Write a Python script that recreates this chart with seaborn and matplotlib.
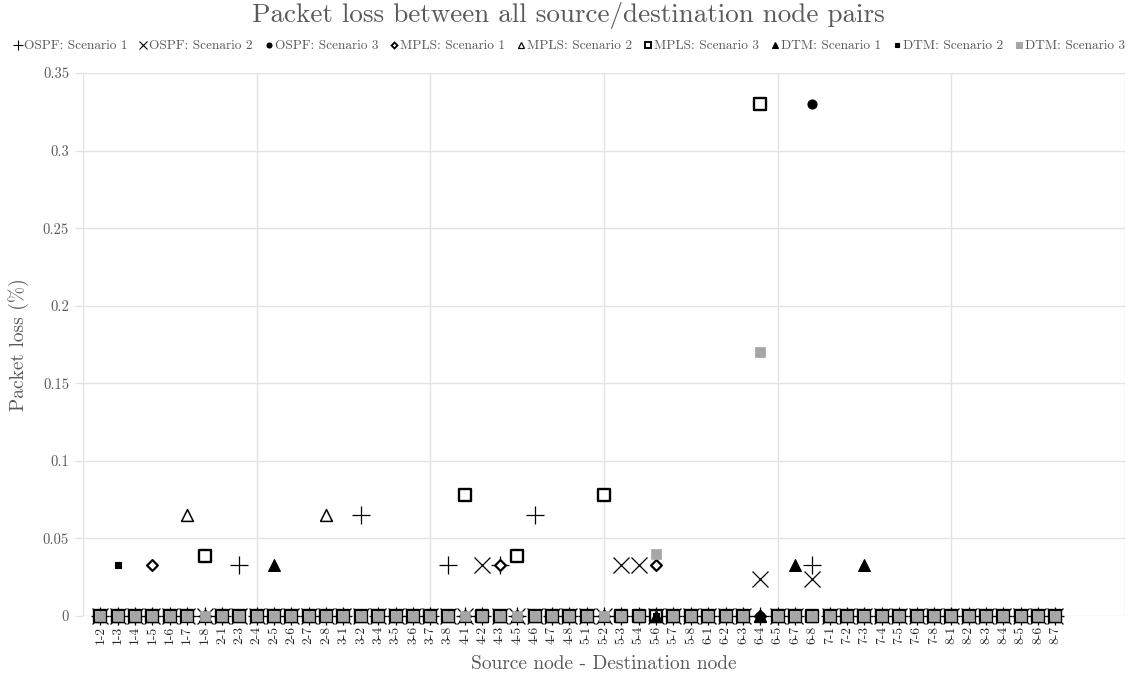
import numpy as np
import pandas as pd
import matplotlib
matplotlib.use("Agg")
import matplotlib.pyplot as plt
from matplotlib.lines import Line2D
import seaborn as sns

sns.set_theme(style="white")
plt.rcParams["font.family"] = ["cmr10", "DejaVu Serif"]
plt.rcParams["axes.formatter.use_mathtext"] = True

# Source-destination node pairs (8 nodes, every ordered pair)
pairs = [f"{s}-{d}" for s in range(1, 9) for d in range(1, 9) if s != d]

# Non-zero packet-loss values (%) per series; every other pair is 0
ospf_s1 = {"2-3": 0.033, "3-2": 0.065, "3-8": 0.033, "4-3": 0.033, "4-6": 0.065, "6-8": 0.033}
ospf_s2 = {"4-2": 0.033, "5-3": 0.033, "5-4": 0.033, "6-4": 0.024, "6-8": 0.024}
ospf_s3 = {"6-8": 0.33}
mpls_s1 = {"1-5": 0.033, "4-3": 0.033, "5-6": 0.033}
mpls_s2 = {"1-7": 0.065, "2-8": 0.065}
mpls_s3 = {"1-8": 0.039, "4-1": 0.078, "4-5": 0.039, "5-2": 0.078, "6-4": 0.33}
dtm_s1 = {"2-5": 0.033, "6-7": 0.033, "7-3": 0.033}
dtm_s2 = {"1-3": 0.033}
dtm_s3 = {"5-6": 0.04, "6-4": 0.17}

series_names = ["OSPF: Scenario 1", "OSPF: Scenario 2", "OSPF: Scenario 3",
                "MPLS: Scenario 1", "MPLS: Scenario 2", "MPLS: Scenario 3",
                "DTM: Scenario 1", "DTM: Scenario 2", "DTM: Scenario 3"]
series_values = [ospf_s1, ospf_s2, ospf_s3, mpls_s1, mpls_s2, mpls_s3,
                 dtm_s1, dtm_s2, dtm_s3]

# marker, size (points), face colour, edge colour, edge width
styles = [
    ("+", 12.5, "black", "black", 0.9),
    ("x", 11.5, "black", "black", 0.9),
    ("o", 6.5, "black", "black", 0.8),
    ("D", 5.5, "white", "black", 1.6),
    ("^", 8.5, "white", "black", 1.1),
    ("s", 8.5, "white", "black", 1.7),
    ("^", 8.5, "black", "black", 0.8),
    ("s", 5, "black", "black", 0.8),
    ("s", 7.6, "#a6a6a6", "#a6a6a6", 0.5),
]

xpos = np.arange(1, len(pairs) + 1)
frames = []
for name, vals in zip(series_names, series_values):
    frames.append(pd.DataFrame({"series": name, "x": xpos,
                                "pair": pairs,
                                "loss": [vals.get(p, 0.0) for p in pairs]}))
df = pd.concat(frames, ignore_index=True)

fig = plt.figure(figsize=(11.37, 6.80), dpi=100)
ax = fig.add_axes([0.073, 0.0941, 0.9164, 0.7985])

grid_c = "#e3e3e3"
text_c = "#595959"

for name, (m, ms, fc, ec, lw) in zip(series_names, styles):
    sub = df[df["series"] == name]
    sns.scatterplot(data=sub, x="x", y="loss", ax=ax, marker=m,
                    s=ms ** 2, color=fc, edgecolor=ec, linewidth=lw,
                    legend=False, zorder=3, clip_on=False)

ax.set_xlim(0, 60)
ax.set_ylim(0, 0.35)
yt = np.arange(0, 0.351, 0.05)
ax.set_yticks(yt)
ax.set_yticklabels(["0", "0.05", "0.1", "0.15", "0.2", "0.25", "0.3", "0.35"],
                   color=text_c, fontsize=10.5)
for yv in yt:
    ax.axhline(yv, color=grid_c, lw=1, zorder=0)
for xv in range(0, 61, 10):
    ax.axvline(xv, color=grid_c, lw=1, zorder=0)

ax.set_xticks(xpos)
ax.set_xticklabels(pairs, rotation=90, fontsize=9.8, color="#262626")
ax.tick_params(axis="x", length=0, pad=7)
ax.tick_params(axis="y", length=6, color=grid_c, width=1, pad=4, left=True)
for sp in ax.spines.values():
    sp.set_visible(False)

ax.set_xlabel("Source node - Destination node", fontsize=14, color=text_c)
ax.xaxis.set_label_coords(0.5, -0.072)
ax.set_ylabel("Packet loss (%)", fontsize=14, color=text_c, labelpad=10)

fig.text(0.5, 0.977, "Packet loss between all source/destination node pairs",
         ha="center", va="center", fontsize=19.5, color=text_c)

handles = [Line2D([], [], linestyle="none", marker=m, markersize=ms * 0.55,
                  markerfacecolor=fc, markeredgecolor=ec,
                  markeredgewidth=max(lw * 0.8, 0.8))
           for (m, ms, fc, ec, lw) in styles]
fig.legend(handles, series_names, loc="center", bbox_to_anchor=(0.5, 0.932),
           ncol=9, frameon=False, fontsize=9.6, handletextpad=0.0,
           columnspacing=0.75, handlelength=0.9, labelcolor=text_c)

fig.savefig("out.png", dpi=100)
